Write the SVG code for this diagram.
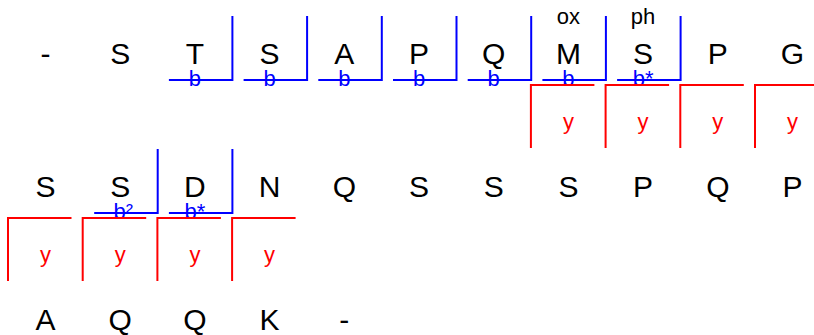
<svg xmlns="http://www.w3.org/2000/svg" width="814" height="335" viewBox="0 0 814 335">
<style>
.aa{font-family:"Liberation Sans",Arial,sans-serif;font-size:30px;fill:#000;text-anchor:middle}
.mod{font-family:"Liberation Sans",Arial,sans-serif;font-size:22px;fill:#000;text-anchor:middle}
.bl{font-family:"Liberation Sans",Arial,sans-serif;font-size:22px;fill:#0000ff;text-anchor:middle}
.yl{font-family:"Liberation Sans",Arial,sans-serif;font-size:22px;fill:#ff0000;text-anchor:middle}
.bb{fill:none;stroke:#0000ff;stroke-width:2}
.yb{fill:none;stroke:#ff0000;stroke-width:2}
</style>
<rect width="814" height="335" fill="#fff"/>
<g id="residues">
<g id="r0"><text class="aa" x="45.5" y="64">-</text></g>
<g id="r1"><text class="aa" x="120.2" y="64">S</text></g>
<g id="r2"><text class="aa" x="194.9" y="64">T</text></g>
<g id="r3"><text class="aa" x="269.6" y="64">S</text></g>
<g id="r4"><text class="aa" x="344.3" y="64">A</text></g>
<g id="r5"><text class="aa" x="419" y="64">P</text></g>
<g id="r6"><text class="aa" x="493.7" y="64">Q</text></g>
<g id="r7"><text class="mod" x="568.4" y="24">ox</text><text class="aa" x="568.4" y="64">M</text></g>
<g id="r8"><text class="mod" x="643.1" y="24">ph</text><text class="aa" x="643.1" y="64">S</text></g>
<g id="r9"><text class="aa" x="717.8" y="64">P</text></g>
<g id="r10"><text class="aa" x="792.5" y="64">G</text></g>
<g id="r11"><text class="aa" x="45.5" y="197">S</text></g>
<g id="r12"><text class="aa" x="120.2" y="197">S</text></g>
<g id="r13"><text class="aa" x="194.9" y="197">D</text></g>
<g id="r14"><text class="aa" x="269.6" y="197">N</text></g>
<g id="r15"><text class="aa" x="344.3" y="197">Q</text></g>
<g id="r16"><text class="aa" x="419" y="197">S</text></g>
<g id="r17"><text class="aa" x="493.7" y="197">S</text></g>
<g id="r18"><text class="aa" x="568.4" y="197">S</text></g>
<g id="r19"><text class="aa" x="643.1" y="197">P</text></g>
<g id="r20"><text class="aa" x="717.8" y="197">Q</text></g>
<g id="r21"><text class="aa" x="792.5" y="197">P</text></g>
<g id="r22"><text class="aa" x="45.5" y="330">A</text></g>
<g id="r23"><text class="aa" x="120.2" y="330">Q</text></g>
<g id="r24"><text class="aa" x="194.9" y="330">Q</text></g>
<g id="r25"><text class="aa" x="269.6" y="330">K</text></g>
<g id="r26"><text class="aa" x="344.3" y="330">-</text></g>
</g>
<g id="connectors">
<g id="b-ions">
<path class="bb" d="M168.9 80H232.4V16"/>
<path class="bb" d="M243.6 80H307.1V16"/>
<path class="bb" d="M318.3 80H381.8V16"/>
<path class="bb" d="M393 80H456.5V16"/>
<path class="bb" d="M467.7 80H531.2V16"/>
<path class="bb" d="M542.4 80H605.9V16"/>
<path class="bb" d="M617.1 80H680.6V16"/>
<path class="bb" d="M94.2 213H157.7V149"/>
<path class="bb" d="M168.9 213H232.4V149"/>
<text class="bl" x="194.9" y="85.5">b</text>
<text class="bl" x="269.6" y="85.5">b</text>
<text class="bl" x="344.3" y="85.5">b</text>
<text class="bl" x="419" y="85.5">b</text>
<text class="bl" x="493.7" y="85.5">b</text>
<text class="bl" x="568.4" y="85.5">b</text>
<text class="bl" x="643.1" y="85.5">b*</text>
<text class="bl" x="123.2" y="218.5">b²</text>
<text class="bl" x="194.9" y="218.5">b*</text>
</g>
<g id="y-ions">
<path class="yb" d="M530.9 148V85H594.4"/>
<path class="yb" d="M605.6 148V85H669.1"/>
<path class="yb" d="M680.3 148V85H743.8"/>
<path class="yb" d="M755 148V85H818.5"/>
<path class="yb" d="M8 281V218H71.5"/>
<path class="yb" d="M82.7 281V218H146.2"/>
<path class="yb" d="M157.4 281V218H220.9"/>
<path class="yb" d="M232.1 281V218H295.6"/>
<text class="yl" x="568.4" y="128.5">y</text>
<text class="yl" x="643.1" y="128.5">y</text>
<text class="yl" x="717.8" y="128.5">y</text>
<text class="yl" x="792.5" y="128.5">y</text>
<text class="yl" x="45.5" y="261.5">y</text>
<text class="yl" x="120.2" y="261.5">y</text>
<text class="yl" x="194.9" y="261.5">y</text>
<text class="yl" x="269.6" y="261.5">y</text>
</g>
</g>
</svg>
